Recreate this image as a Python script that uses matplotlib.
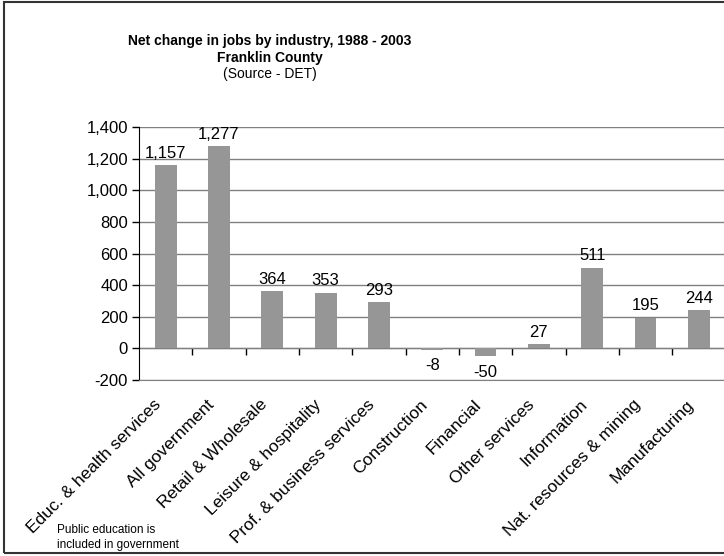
import matplotlib.pyplot as plt
from matplotlib.patches import Rectangle
from matplotlib.ticker import FuncFormatter
from matplotlib.transforms import ScaledTranslation

plt.rcParams['font.family'] = ['Liberation Sans', 'DejaVu Sans']

industries = ["Educ. & health services", "All government", "Retail & Wholesale",
              "Leisure & hospitality", "Prof. & business services", "Construction",
              "Financial", "Other services", "Information",
              "Nat. resources & mining", "Manufacturing"]
net_change = [1157, 1277, 364, 353, 293, -8, -50, 27, 511, 195, 244]
y_ticks = [-200, 0, 200, 400, 600, 800, 1000, 1200, 1400]

fig = plt.figure(figsize=(7.24, 5.56), dpi=100)
ax = fig.add_axes([0.192, 0.3165, 0.81, 0.455])

x = list(range(len(industries)))
ax.bar(x, net_change, width=0.41, color='#969696', zorder=3)

ax.set_xlim(-0.5, len(industries) - 0.5)
ax.set_ylim(-200, 1400)
ax.set_yticks(y_ticks)
ax.yaxis.set_major_formatter(FuncFormatter(lambda v, p: f"{int(v):,}"))
ax.grid(axis='y', color='#808080', linewidth=1, zorder=0)
ax.tick_params(axis='y', direction='out', length=5, width=1, labelsize=12, pad=3)

ax.set_xticks(x)
ax.set_xticklabels(industries, rotation=45, ha='right', va='center',
                   rotation_mode='anchor', fontsize=12.5)
ax.tick_params(axis='x', length=0, pad=16)
# nudge the slanted names a little to the left
shift = ScaledTranslation(-0.07, 0, fig.dpi_scale_trans)
for lbl in ax.get_xticklabels():
    lbl.set_transform(lbl.get_transform() + shift)

for side in ['top', 'right']:
    ax.spines[side].set_visible(False)
ax.spines['left'].set_color('black')
ax.spines['bottom'].set_color('#808080')

# category axis crossing at zero, ticks between the bars
zero_axis = ax.secondary_xaxis(200 / 1600)
zero_axis.set_xticks([i + 0.5 for i in x[:-1]])
zero_axis.set_xticklabels([])
zero_axis.tick_params(direction='out', length=5, width=1, color='black')
zero_axis.spines['bottom'].set_color('black')

for xi, v in zip(x, net_change):
    if v >= 0:
        ax.annotate(f"{v:,}", (xi, v), xytext=(0, 3), textcoords='offset points',
                    ha='center', va='bottom', fontsize=12, zorder=4)
    else:
        ax.annotate(f"{v:,}", (xi, v), xytext=(0, -6), textcoords='offset points',
                    ha='center', va='top', fontsize=12, zorder=4)

fig.text(0.373, 0.926, "Net change in jobs by industry, 1988 - 2003",
         ha='center', va='center', fontsize=10, fontweight='bold')
fig.text(0.373, 0.896, "Franklin County", ha='center', va='center',
         fontsize=10, fontweight='bold')
fig.text(0.373, 0.867, "(Source - DET)", ha='center', va='center', fontsize=10)

fig.text(0.079, 0.034, "Public education is\nincluded in government",
         ha='left', va='center', fontsize=8.5, linespacing=1.35)

fig.patches.append(Rectangle((0.006, 0.005), 1.1, 0.991, transform=fig.transFigure,
                             fill=False, edgecolor='#333333', linewidth=1.5))

fig.savefig("out.png", dpi=100)
